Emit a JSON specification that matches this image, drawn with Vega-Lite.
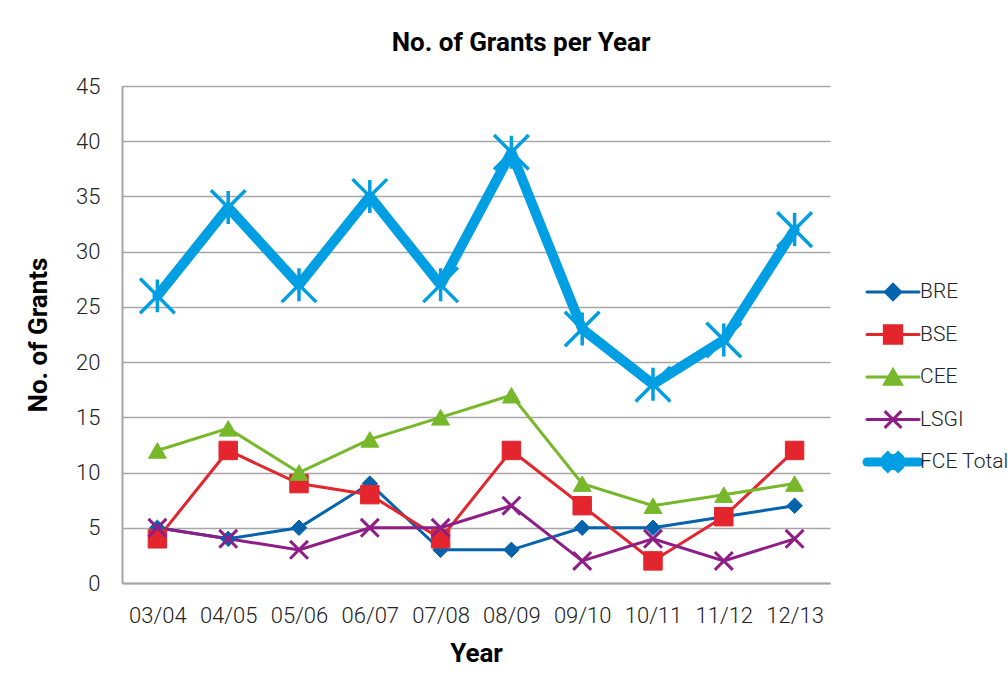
{
  "$schema": "https://vega.github.io/schema/vega-lite/v6.json",
  "background": "white",
  "padding": {"left": 25, "top": 30, "right": 0, "bottom": 8},
  "title": {"text": "No. of Grants per Year", "font": "Roboto", "fontSize": 26, "fontWeight": "bold", "color": "#000000", "anchor": "middle", "offset": 19, "dx": 4},
  "datasets": {
    "grants": [
      {"year": "03/04", "series": "BRE", "grants": 5},
      {"year": "04/05", "series": "BRE", "grants": 4},
      {"year": "05/06", "series": "BRE", "grants": 5},
      {"year": "06/07", "series": "BRE", "grants": 9},
      {"year": "07/08", "series": "BRE", "grants": 3},
      {"year": "08/09", "series": "BRE", "grants": 3},
      {"year": "09/10", "series": "BRE", "grants": 5},
      {"year": "10/11", "series": "BRE", "grants": 5},
      {"year": "11/12", "series": "BRE", "grants": 6},
      {"year": "12/13", "series": "BRE", "grants": 7},
      {"year": "03/04", "series": "BSE", "grants": 4},
      {"year": "04/05", "series": "BSE", "grants": 12},
      {"year": "05/06", "series": "BSE", "grants": 9},
      {"year": "06/07", "series": "BSE", "grants": 8},
      {"year": "07/08", "series": "BSE", "grants": 4},
      {"year": "08/09", "series": "BSE", "grants": 12},
      {"year": "09/10", "series": "BSE", "grants": 7},
      {"year": "10/11", "series": "BSE", "grants": 2},
      {"year": "11/12", "series": "BSE", "grants": 6},
      {"year": "12/13", "series": "BSE", "grants": 12},
      {"year": "03/04", "series": "CEE", "grants": 12},
      {"year": "04/05", "series": "CEE", "grants": 14},
      {"year": "05/06", "series": "CEE", "grants": 10},
      {"year": "06/07", "series": "CEE", "grants": 13},
      {"year": "07/08", "series": "CEE", "grants": 15},
      {"year": "08/09", "series": "CEE", "grants": 17},
      {"year": "09/10", "series": "CEE", "grants": 9},
      {"year": "10/11", "series": "CEE", "grants": 7},
      {"year": "11/12", "series": "CEE", "grants": 8},
      {"year": "12/13", "series": "CEE", "grants": 9},
      {"year": "03/04", "series": "LSGI", "grants": 5},
      {"year": "04/05", "series": "LSGI", "grants": 4},
      {"year": "05/06", "series": "LSGI", "grants": 3},
      {"year": "06/07", "series": "LSGI", "grants": 5},
      {"year": "07/08", "series": "LSGI", "grants": 5},
      {"year": "08/09", "series": "LSGI", "grants": 7},
      {"year": "09/10", "series": "LSGI", "grants": 2},
      {"year": "10/11", "series": "LSGI", "grants": 4},
      {"year": "11/12", "series": "LSGI", "grants": 2},
      {"year": "12/13", "series": "LSGI", "grants": 4},
      {"year": "03/04", "series": "FCE Total", "grants": 26},
      {"year": "04/05", "series": "FCE Total", "grants": 34},
      {"year": "05/06", "series": "FCE Total", "grants": 27},
      {"year": "06/07", "series": "FCE Total", "grants": 35},
      {"year": "07/08", "series": "FCE Total", "grants": 27},
      {"year": "08/09", "series": "FCE Total", "grants": 39},
      {"year": "09/10", "series": "FCE Total", "grants": 23},
      {"year": "10/11", "series": "FCE Total", "grants": 18},
      {"year": "11/12", "series": "FCE Total", "grants": 22},
      {"year": "12/13", "series": "FCE Total", "grants": 32}
    ],
    "legend": [
      {"series": "BRE"},
      {"series": "BSE"},
      {"series": "CEE"},
      {"series": "LSGI"},
      {"series": "FCE Total"}
    ]
  },
  "spacing": 32,
  "resolve": {"scale": {"x": "independent", "y": "independent", "size": "independent", "strokeWidth": "independent"}},
  "hconcat": [
    {
      "width": 708,
      "height": 497,
      "data": {"name": "grants"},
      "encoding": {
        "x": {"field": "year", "type": "ordinal", "scale": {"type": "point", "padding": 0.5}, "sort": null,
          "axis": {"title": "Year", "labelAngle": 0, "ticks": false, "grid": false, "domainColor": "#a6a6a6", "domainWidth": 2, "labelFont": "Roboto", "labelFontWeight": 300, "labelFontSize": 22, "labelColor": "#222222", "labelPadding": 22, "titleFont": "Roboto", "titleFontSize": 26, "titleFontWeight": "bold", "titleColor": "#000000", "titlePadding": 14}},
        "y": {"field": "grants", "type": "quantitative", "scale": {"domain": [0, 45], "nice": false},
          "axis": {"title": "No. of Grants", "values": [0, 5, 10, 15, 20, 25, 30, 35, 40, 45], "ticks": false, "grid": true, "gridColor": "#a6a6a6", "gridWidth": 1.5, "domainColor": "#a6a6a6", "domainWidth": 2, "labelFont": "Roboto", "labelFontWeight": 300, "labelFontSize": 22, "labelColor": "#222222", "labelPadding": 22, "titleFont": "Roboto", "titleFontSize": 26, "titleFontWeight": "bold", "titleColor": "#000000", "titlePadding": 24}}
      },
      "layer": [
        {
          "transform": [{"filter": "datum.series != 'FCE Total'"}],
          "mark": {"type": "line", "strokeWidth": 3},
          "encoding": {
            "color": {"field": "series", "type": "nominal", "scale": {"domain": ["BRE", "BSE", "CEE", "LSGI", "FCE Total"], "range": ["#0563ae", "#e3262d", "#76b82a", "#8e1d87", "#009fe3"]}, "legend": null}
          }
        },
        {
          "transform": [{"filter": "datum.series == 'FCE Total'"}],
          "mark": {"type": "line", "strokeWidth": 10, "strokeJoin": "round", "strokeCap": "round"},
          "encoding": {
            "color": {"field": "series", "type": "nominal", "scale": {"domain": ["BRE", "BSE", "CEE", "LSGI", "FCE Total"], "range": ["#0563ae", "#e3262d", "#76b82a", "#8e1d87", "#009fe3"]}, "legend": null}
          }
        },
        {
          "mark": {"type": "point", "opacity": 1},
          "encoding": {
            "shape": {"field": "series", "type": "nominal", "scale": {"domain": ["BRE", "BSE", "CEE", "LSGI", "FCE Total"], "range": ["diamond", "square", "triangle-up", "M-1,-1L1,1M-1,1L1,-1", "M-1,-1L1,1M-1,1L1,-1M0,-0.95L0,0.95"]}, "legend": null},
            "fill": {"field": "series", "type": "nominal", "scale": {"domain": ["BRE", "BSE", "CEE", "LSGI", "FCE Total"], "range": ["#0563ae", "#e3262d", "#76b82a", "#8e1d87", "#009fe3"]}, "legend": null},
            "stroke": {"field": "series", "type": "nominal", "scale": {"domain": ["BRE", "BSE", "CEE", "LSGI", "FCE Total"], "range": ["#0563ae", "#e3262d", "#76b82a", "#8e1d87", "#009fe3"]}, "legend": null},
            "strokeWidth": {"field": "series", "type": "nominal", "scale": {"type": "ordinal", "domain": ["BRE", "BSE", "CEE", "LSGI", "FCE Total"], "range": [1, 1, 1, 3, 3.5]}, "legend": null},
            "size": {"field": "series", "type": "nominal", "scale": {"type": "ordinal", "domain": ["BRE", "BSE", "CEE", "LSGI", "FCE Total"], "range": [240, 340, 320, 320, 1200]}, "legend": null}
          }
        }
      ]
    },
    {
      "width": 52,
      "height": 497,
      "data": {"name": "legend"},
      "encoding": {
        "y": {"field": "series", "type": "nominal", "sort": null, "scale": {"type": "point", "padding": 0, "domain": ["BRE", "BSE", "CEE", "LSGI", "FCE Total"], "range": [206, 376]}, "axis": null}
      },
      "layer": [
        {
          "mark": {"type": "rule", "strokeCap": "round"},
          "encoding": {
            "color": {"field": "series", "type": "nominal", "scale": {"domain": ["BRE", "BSE", "CEE", "LSGI", "FCE Total"], "range": ["#0563ae", "#e3262d", "#76b82a", "#8e1d87", "#009fe3"]}, "legend": null},
            "strokeWidth": {"field": "series", "type": "nominal", "scale": {"type": "ordinal", "domain": ["BRE", "BSE", "CEE", "LSGI", "FCE Total"], "range": [3, 3, 3, 3, 9]}, "legend": null}
          }
        },
        {
          "mark": {"type": "point", "opacity": 1},
          "encoding": {
            "shape": {"field": "series", "type": "nominal", "scale": {"domain": ["BRE", "BSE", "CEE", "LSGI", "FCE Total"], "range": ["diamond", "square", "triangle-up", "M-1,-1L1,1M-1,1L1,-1", "M-1,-1L1,1M-1,1L1,-1M0,-0.95L0,0.95"]}, "legend": null},
            "fill": {"field": "series", "type": "nominal", "scale": {"domain": ["BRE", "BSE", "CEE", "LSGI", "FCE Total"], "range": ["#0563ae", "#e3262d", "#76b82a", "#8e1d87", "#009fe3"]}, "legend": null},
            "stroke": {"field": "series", "type": "nominal", "scale": {"domain": ["BRE", "BSE", "CEE", "LSGI", "FCE Total"], "range": ["#0563ae", "#e3262d", "#76b82a", "#8e1d87", "#009fe3"]}, "legend": null},
            "strokeWidth": {"field": "series", "type": "nominal", "scale": {"type": "ordinal", "domain": ["BRE", "BSE", "CEE", "LSGI", "FCE Total"], "range": [1, 1, 1, 2.5, 2.5]}, "legend": null},
            "size": {"field": "series", "type": "nominal", "scale": {"type": "ordinal", "domain": ["BRE", "BSE", "CEE", "LSGI", "FCE Total"], "range": [230, 300, 280, 280, 280]}, "legend": null}
          }
        },
        {
          "mark": {"type": "text", "align": "left", "baseline": "middle", "dx": 27, "font": "Roboto", "fontWeight": 300, "fontSize": 21, "color": "#222222"},
          "encoding": {
            "text": {"field": "series", "type": "nominal"}
          }
        }
      ]
    }
  ],
  "config": {"view": {"stroke": null}, "font": "Roboto"}
}
